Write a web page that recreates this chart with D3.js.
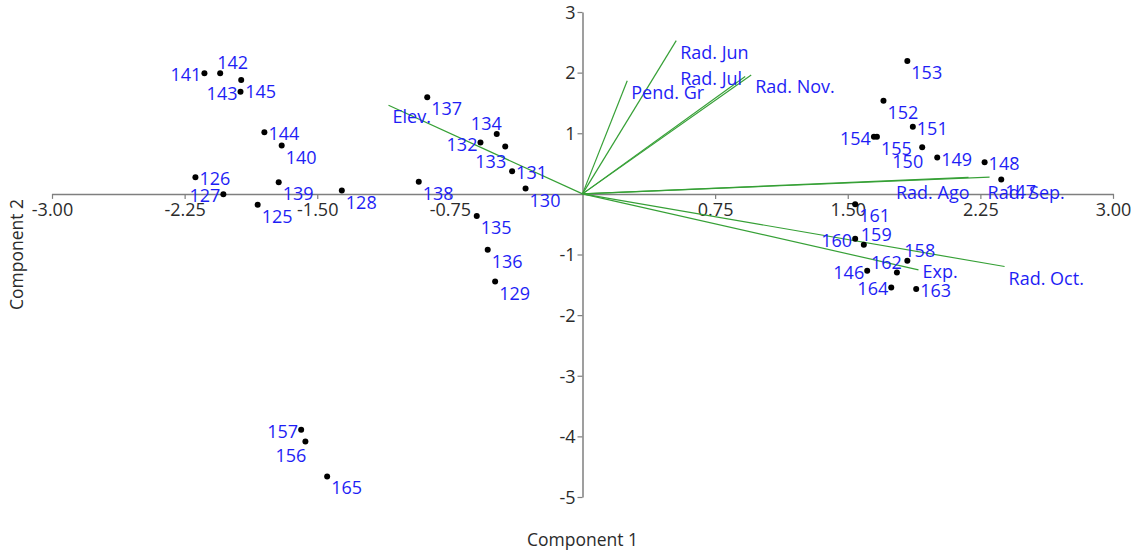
<!DOCTYPE html>
<html>
<head>
<meta charset="utf-8">
<script src="https://cdn.jsdelivr.net/npm/d3@7"></script>
<style>
  html, body { margin: 0; padding: 0; background: #fff; }
  svg { display: block; font-family: "Open Sans", "Noto Sans", sans-serif; }
</style>
</head>
<body>
<svg id="chart" width="1145" height="556"></svg>
<script>
// Observation scores on the first two principal components
const obsIds = [141, 142, 145, 143, 144, 140, 126, 139, 127, 128, 125,
                137, 134, 132, 133, 131, 138, 130, 135, 136, 129,
                153, 152, 151, 154, 155, 150, 149, 148, 147,
                161, 159, 160, 158, 162, 146, 164, 163,
                157, 156, 165];
const comp1 = [-2.138, -2.049, -1.930, -1.934, -1.799, -1.701, -2.189, -1.718, -2.031, -1.361, -1.837,
               -0.878, -0.485, -0.577, -0.437, -0.398, -0.926, -0.322, -0.598, -0.536, -0.494,
               1.837, 1.702, 1.868, 1.648, 1.665, 1.921, 2.006, 2.274, 2.368,
               1.542, 1.591, 1.542, 1.837, 1.778, 1.610, 1.746, 1.887,
               -1.591, -1.567, -1.444];
const comp2 = [1.989, 1.989, 1.879, 1.686, 1.017, 0.796, 0.275, 0.193, -0.005, 0.054, -0.181,
               1.594, 0.989, 0.846, 0.780, 0.374, 0.198, 0.087, -0.363, -0.923, -1.446,
               2.192, 1.538, 1.109, 0.944, 0.944, 0.770, 0.598, 0.523, 0.236,
               -0.170, -0.841, -0.742, -1.104, -1.297, -1.269, -1.544, -1.571,
               -3.890, -4.083, -4.660];
// which side of the dot each id label sits on
const obsLabelSide = ["l", "ar", "br", "l", "r", "br", "r", "br", "l", "br", "br",
                      "br", "al", "l", "bl", "r", "br", "br", "br", "br", "br",
                      "br", "br", "r", "l", "br", "bl", "r", "r", "br",
                      "br", "ar", "l", "ar", "al", "l", "l", "r",
                      "l", "bl", "br"];

// Variable loadings (biplot rays)
const varNames = ["Rad. Jun", "Pend. Gr", "Rad. Jul", "Rad. Nov.", "Elev.",
                  "Rad. Ago", "Rad. Sep.", "Rad. Oct.", "Exp."];
const varComp1 = [0.530, 0.253, 0.920, 0.954, -1.097, 2.183, 2.302, 2.387, 1.900];
const varComp2 = [2.527, 1.867, 1.935, 1.960, 1.462, 0.272, 0.275, -1.198, -1.253];
const varLabelSide = ["br", "br", "l", "br", "br", "bl", "brs", "br", "r"];

const xTicks = [-3, -2.25, -1.5, -0.75, 0.75, 1.5, 2.25, 3];
const yTicks = [-5, -4, -3, -2, -1, 1, 2, 3];
const xTitle = "Component 1";
const yTitle = "Component 2";

const svg = d3.select("#chart");
const x = d3.scaleLinear().domain([-3, 3]).range([52, 1113]);
const y = d3.scaleLinear().domain([-5, 3]).range([497, 12]);

const axisColor = "#7f7f7f";
const labelBlue = "#1e1ef5";
const rayGreen = "#36a036";
const fontSize = 18;

// label offsets relative to the anchor point
const sides = {
  r:   { anchor: "start", dx: 4,  dy: 1 },
  l:   { anchor: "end",   dx: -3, dy: 1 },
  br:  { anchor: "start", dx: 4,  dy: 11 },
  brs: { anchor: "start", dx: -2, dy: 15 },
  bl:  { anchor: "end",   dx: 1,  dy: 14 },
  ar:  { anchor: "start", dx: -3, dy: -11 },
  al:  { anchor: "end",   dx: 5,  dy: -11 }
};
// Rad. Ago label sits a bit lower than the generic below-left spot
const varSides = Object.assign({}, sides, { bl: { anchor: "end", dx: 1, dy: 15 } });

// Axes through the origin
const xAxis = d3.axisBottom(x).tickValues(xTicks).tickSize(5).tickSizeOuter(0)
  .tickFormat(d => d.toFixed(2));
const yAxis = d3.axisLeft(y).tickValues(yTicks).tickSize(5).tickSizeOuter(0)
  .tickFormat(d => String(d));

const gx = svg.append("g").attr("transform", `translate(0,${y(0)})`).call(xAxis);
const gy = svg.append("g").attr("transform", `translate(${x(0)},0)`).call(yAxis);

[gx, gy].forEach(g => {
  g.select(".domain").attr("stroke", axisColor).attr("stroke-width", 1.5);
  g.selectAll(".tick line").attr("stroke", axisColor).attr("stroke-width", 1.2);
  g.selectAll(".tick text").attr("fill", "#2b2b2b").attr("font-size", fontSize)
    .attr("font-family", "'Open Sans', 'Noto Sans', sans-serif");
});
gx.selectAll(".tick text").attr("dy", "0.85em").attr("y", 7);
gy.selectAll(".tick text").attr("x", -7).attr("dy", "0.35em");

// Axis titles
svg.append("text").attr("x", x(0)).attr("y", 546).attr("text-anchor", "middle")
  .attr("font-size", 17.5).attr("fill", "#2b2b2b").text(xTitle);
svg.append("text").attr("transform", `translate(23,${y(-1)}) rotate(-90)`)
  .attr("text-anchor", "middle").attr("font-size", 17.5).attr("fill", "#2b2b2b").text(yTitle);

// Loading rays
const rays = varNames.map((n, i) => ({ name: n, c1: varComp1[i], c2: varComp2[i], side: varLabelSide[i] }));
svg.append("g").selectAll("line").data(rays).join("line")
  .attr("x1", x(0)).attr("y1", y(0))
  .attr("x2", d => x(d.c1)).attr("y2", d => y(d.c2))
  .attr("stroke", rayGreen).attr("stroke-width", 1.2);

// Observation points
const obs = obsIds.map((id, i) => ({ id, c1: comp1[i], c2: comp2[i], side: obsLabelSide[i] }));
svg.append("g").selectAll("circle").data(obs).join("circle")
  .attr("cx", d => x(d.c1)).attr("cy", d => y(d.c2)).attr("r", 3).attr("fill", "#000");

// Labels
svg.append("g").selectAll("text").data(rays).join("text")
  .attr("x", d => x(d.c1) + varSides[d.side].dx)
  .attr("y", d => y(d.c2) + varSides[d.side].dy)
  .attr("text-anchor", d => varSides[d.side].anchor)
  .attr("dominant-baseline", "central")
  .attr("font-size", fontSize).attr("fill", labelBlue).text(d => d.name);

svg.append("g").selectAll("text").data(obs).join("text")
  .attr("x", d => x(d.c1) + sides[d.side].dx)
  .attr("y", d => y(d.c2) + sides[d.side].dy)
  .attr("text-anchor", d => sides[d.side].anchor)
  .attr("dominant-baseline", "central")
  .attr("font-size", fontSize).attr("fill", labelBlue).text(d => d.id);
</script>
</body>
</html>
